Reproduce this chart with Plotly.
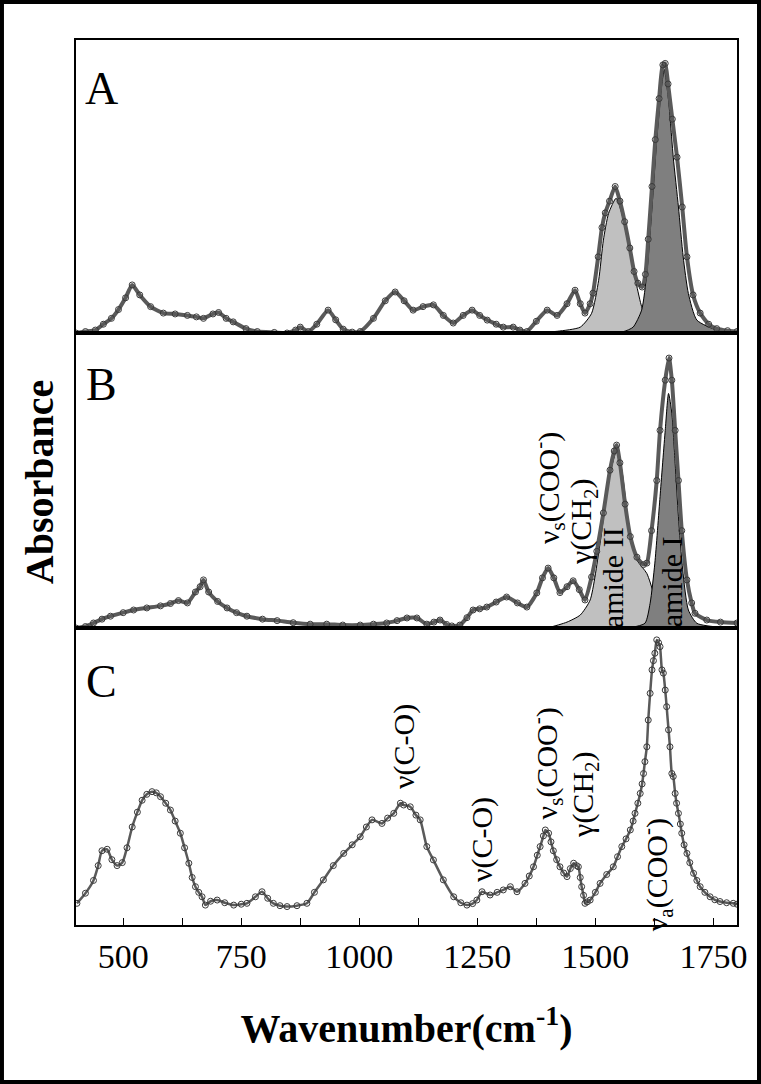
import plotly.graph_objects as go
from plotly.subplots import make_subplots

# ---- Panel A: measured spectrum (wavenumber, relative absorbance) ----
a_wn = [400, 420, 441, 458, 475, 490, 505, 519, 535, 558, 585, 610, 636, 655, 670, 690, 702, 718,
        733, 760, 784, 820, 847, 865, 875, 892, 910, 934, 950, 966, 985, 1002, 1030, 1055, 1076,
        1095, 1114, 1135, 1157, 1178, 1199, 1220, 1239, 1255, 1271, 1290, 1305, 1326, 1340, 1355,
        1375, 1398, 1419, 1440, 1457, 1468, 1478, 1489, 1495, 1506, 1514, 1521, 1530, 1542, 1552,
        1562, 1573, 1582, 1590, 1599, 1606, 1612, 1620, 1627, 1635, 1643, 1648, 1654, 1663, 1673,
        1684, 1694, 1707, 1722, 1740, 1757, 1780, 1800]
a_abs = [0.0, 0.005, 0.01, 0.03, 0.05, 0.08, 0.12, 0.164, 0.13, 0.09, 0.068, 0.065, 0.06, 0.055,
         0.05, 0.065, 0.07, 0.05, 0.038, 0.015, 0.005, 0.002, 0.0, 0.01, 0.02, 0.005, 0.03, 0.078,
         0.045, 0.013, 0.003, 0.005, 0.05, 0.11, 0.14, 0.11, 0.078, 0.09, 0.096, 0.06, 0.034, 0.06,
         0.078, 0.06, 0.044, 0.03, 0.02, 0.02, 0.01, 0.005, 0.04, 0.078, 0.06, 0.1, 0.146, 0.1,
         0.068, 0.1, 0.136, 0.26, 0.36, 0.41, 0.45, 0.50, 0.45, 0.38, 0.29, 0.21, 0.17, 0.157, 0.2,
         0.32, 0.5, 0.66, 0.8, 0.915, 0.92, 0.85, 0.73, 0.60, 0.43, 0.26, 0.13, 0.068, 0.03, 0.015,
         0.008, 0.005]

# fitted bands, panel A
a_am2_wn = [1368, 1420, 1468, 1492, 1507, 1517, 1528, 1544, 1556, 1574, 1588, 1598, 1612, 1637, 1680]
a_am2 = [0.0, 0.006, 0.02, 0.067, 0.18, 0.317, 0.408, 0.46, 0.408, 0.27, 0.158, 0.09, 0.033, 0.005, 0.0]
a_am1_wn = [1520, 1560, 1580, 1598, 1609, 1620, 1630, 1641, 1646, 1655, 1665, 1676, 1686, 1697,
            1715, 1757, 1800]
a_am1 = [0.0, 0.005, 0.02, 0.078, 0.204, 0.43, 0.66, 0.852, 0.9, 0.795, 0.6, 0.43, 0.26, 0.135,
         0.044, 0.01, 0.003]

# ---- Panel B ----
b_wn = [400, 420, 437, 455, 473, 500, 522, 550, 579, 600, 617, 636, 653, 663, 670, 681, 700, 720,
        740, 762, 795, 826, 860, 896, 931, 965, 1002, 1030, 1058, 1080, 1101, 1122, 1143, 1158,
        1171, 1185, 1196, 1213, 1228, 1241, 1255, 1270, 1290, 1312, 1335, 1355, 1376, 1388, 1400,
        1412, 1425, 1440, 1453, 1466, 1478, 1492, 1503, 1517, 1531, 1540, 1545, 1552, 1563, 1574,
        1588, 1602, 1609, 1619, 1630, 1637, 1648, 1656, 1662, 1669, 1676, 1683, 1694, 1704, 1711,
        1736, 1765, 1800]
b_abs = [0.0, 0.005, 0.017, 0.03, 0.04, 0.052, 0.061, 0.068, 0.075, 0.083, 0.093, 0.085, 0.122,
         0.14, 0.163, 0.122, 0.09, 0.068, 0.052, 0.04, 0.03, 0.025, 0.018, 0.013, 0.013, 0.01, 0.01,
         0.013, 0.017, 0.025, 0.034, 0.034, 0.013, 0.02, 0.027, 0.012, 0.007, 0.01, 0.035, 0.061,
         0.065, 0.071, 0.088, 0.105, 0.085, 0.071, 0.119, 0.17, 0.203, 0.17, 0.12, 0.14, 0.16, 0.13,
         0.095, 0.173, 0.26, 0.39, 0.535, 0.6, 0.62, 0.56, 0.42, 0.31, 0.24, 0.215, 0.22, 0.33, 0.5,
         0.67, 0.84, 0.915, 0.84, 0.67, 0.5, 0.33, 0.163, 0.085, 0.05, 0.027, 0.02, 0.017]

b_am2_wn = [1380, 1404, 1440, 1468, 1489, 1510, 1528, 1545, 1556, 1574, 1588, 1609, 1623, 1634, 1645]
b_am2 = [0.0, 0.003, 0.02, 0.044, 0.095, 0.287, 0.5, 0.6, 0.536, 0.31, 0.23, 0.185, 0.118, 0.038, 0.0]
b_am1_wn = [1570, 1605, 1616, 1626, 1637, 1648, 1655, 1662, 1669, 1676, 1685, 1697, 1715, 1760, 1800]
b_am1 = [0.0, 0.016, 0.084, 0.22, 0.445, 0.67, 0.795, 0.728, 0.558, 0.377, 0.197, 0.061, 0.016,
         0.003, 0.0]

# ---- Panel C ----
c_wn = [402, 420, 437, 447, 455, 466, 476, 487, 498, 508, 519, 530, 540, 550, 561, 570, 579, 590,
        600, 610, 621, 630, 639, 646, 653, 660, 667, 674, 685, 699, 715, 734, 750, 762, 780, 794,
        806, 818, 832, 847, 868, 889, 905, 924, 945, 967, 985, 1002, 1015, 1027, 1048, 1060, 1073,
        1087, 1094, 1108, 1120, 1129, 1143, 1157, 1178, 1200, 1215, 1228, 1240, 1249, 1260, 1277,
        1292, 1305, 1320, 1334, 1351, 1360, 1369, 1377, 1383, 1390, 1394, 1401, 1406, 1411, 1418,
        1425, 1433, 1440, 1447, 1454, 1460, 1464, 1468, 1471, 1475, 1478, 1483, 1489, 1500, 1510,
        1524, 1538, 1547, 1556, 1565, 1574, 1580, 1584, 1590, 1595, 1599, 1602, 1605, 1609, 1612,
        1616, 1620, 1623, 1626, 1630, 1634, 1637, 1641, 1644, 1648, 1651, 1655, 1658, 1662, 1665,
        1669, 1672, 1676, 1680, 1683, 1688, 1694, 1700, 1708, 1715, 1722, 1732, 1743, 1753, 1764,
        1778, 1792, 1800]
c_abs = [0.073, 0.107, 0.15, 0.2, 0.25, 0.255, 0.22, 0.2, 0.21, 0.26, 0.33, 0.38, 0.42, 0.44,
         0.449, 0.445, 0.432, 0.41, 0.387, 0.35, 0.309, 0.26, 0.208, 0.16, 0.129, 0.11, 0.095,
         0.067, 0.08, 0.084, 0.075, 0.067, 0.07, 0.073, 0.095, 0.112, 0.09, 0.073, 0.065, 0.062,
         0.065, 0.073, 0.11, 0.152, 0.2, 0.241, 0.27, 0.297, 0.33, 0.354, 0.342, 0.36, 0.376, 0.41,
         0.404, 0.398, 0.37, 0.354, 0.264, 0.219, 0.152, 0.095, 0.075, 0.067, 0.072, 0.084, 0.112,
         0.101, 0.11, 0.118, 0.129, 0.112, 0.14, 0.165, 0.196, 0.235, 0.264, 0.3, 0.32, 0.309, 0.28,
         0.25, 0.22, 0.196, 0.175, 0.163, 0.19, 0.208, 0.2, 0.196, 0.16, 0.129, 0.1, 0.073, 0.078,
         0.084, 0.11, 0.14, 0.17, 0.196, 0.23, 0.264, 0.29, 0.32, 0.35, 0.376, 0.41, 0.443, 0.475,
         0.51, 0.55, 0.6, 0.69, 0.78, 0.859, 0.89, 0.915, 0.96, 0.95, 0.937, 0.859, 0.848, 0.791,
         0.735, 0.657, 0.6, 0.51, 0.5, 0.443, 0.41, 0.376, 0.34, 0.309, 0.27, 0.241, 0.21, 0.174,
         0.15, 0.129, 0.11, 0.095, 0.085, 0.079, 0.075, 0.073, 0.07]

tick_vals = [500, 750, 1000, 1250, 1500, 1750]
minor_vals = [625, 875, 1125, 1375, 1625]

serif = "Liberation Serif"
light_gray = "#c0c0c0"
dark_gray = "#7f7f7f"

fig = make_subplots(rows=3, cols=1, shared_xaxes=True, vertical_spacing=0,
                    row_heights=[293, 295, 297])


def add_band(wn, vals, color, row):
    fig.add_trace(go.Scatter(x=wn, y=vals, mode="lines", fill="tozeroy", fillcolor=color,
                             line=dict(color="black", width=1, shape="spline", smoothing=0.6),
                             hoverinfo="skip"), row=row, col=1)


def add_spectrum(wn, vals, row, rope=4):
    # grey "rope" + open circles, like the densely overlapping data points of the original
    fig.add_trace(go.Scatter(x=wn, y=vals, mode="lines",
                             line=dict(color="#5a5a5a", width=rope, shape="spline", smoothing=0.6)),
                  row=row, col=1)
    fig.add_trace(go.Scatter(x=wn, y=vals, mode="markers",
                             marker=dict(symbol="circle-open", size=6, color="#3a3a3a",
                                         line=dict(width=1))),
                  row=row, col=1)


add_band(a_am2_wn, a_am2, light_gray, 1)
add_band(a_am1_wn, a_am1, dark_gray, 1)
add_spectrum(a_wn, a_abs, 1)

add_band(b_am2_wn, b_am2, light_gray, 2)
add_band(b_am1_wn, b_am1, dark_gray, 2)
add_spectrum(b_wn, b_abs, 2)

add_spectrum(c_wn, c_abs, 3, rope=2.5)

# axes: boxed panels, ticks only on the bottom one
for r in (1, 2, 3):
    fig.update_yaxes(range=[0, 1], showticklabels=False, ticks="", showgrid=False, zeroline=False,
                     showline=True, mirror=True, linecolor="black", linewidth=1.5, row=r, col=1)
    fig.update_xaxes(range=[400, 1800], showgrid=False, zeroline=False, showline=True, mirror=True,
                     linecolor="black", linewidth=1.5, ticks="", showticklabels=False, row=r, col=1)

fig.update_xaxes(showticklabels=True, ticks="inside", ticklen=7, tickwidth=1.2, tickcolor="black",
                 tickvals=tick_vals, tickfont=dict(family=serif, size=34, color="black"),
                 minor=dict(ticks="inside", tickvals=minor_vals, ticklen=7, tickwidth=1.2,
                            tickcolor="black"),
                 title=dict(text="<b>Wavenumber(cm<sup>-1</sup>)</b>", standoff=40,
                            font=dict(family=serif, size=40, color="black")),
                 row=3, col=1)

# panel letters
for ref, letter, v in (("", "A", 0.833), ("2", "B", 0.827), ("3", "C", 0.82)):
    fig.add_annotation(x=455, y=v, xref="x" + ref, yref="y" + ref, text=letter, showarrow=False,
                       font=dict(family=serif, size=46, color="black"))

# band assignments (rotated)
labels = [
    ("2", 1402, 0.475, "ν<sub>s</sub>(COO<sup>-</sup>)"),
    ("2", 1474, 0.36, "γ(CH<sub>2</sub>)"),
    ("2", 1538, 0.17, "amide II"),
    ("2", 1663, 0.156, "amide I"),
    ("3", 1095, 0.6, "ν(C-O)"),
    ("3", 1260, 0.286, "ν(C-O)"),
    ("3", 1396, 0.545, "ν<sub>s</sub>(COO<sup>-</sup>)"),
    ("3", 1478, 0.438, "γ(CH<sub>2</sub>)"),
    ("3", 1630, 0.17, "ν<sub>a</sub>(COO<sup>-</sup>)"),
]
for ref, wn, v, txt in labels:
    fig.add_annotation(x=wn, y=v, xref="x" + ref, yref="y" + ref, text=txt, textangle=-90,
                       showarrow=False, font=dict(family=serif, size=30, color="black"))

# y title spanning all panels
fig.add_annotation(x=-0.055, y=0.5, xref="paper", yref="paper", xanchor="center",
                   yanchor="middle", text="<b>Absorbance</b>", textangle=-90, showarrow=False,
                   font=dict(family=serif, size=40, color="black"))

# outer black frame of the figure
fig.add_shape(type="rect", xref="paper", yref="paper", x0=-0.112, x1=1.0333, y0=-0.1774, y1=1.0429,
              line=dict(color="black", width=4))

fig.update_layout(width=761, height=1084, showlegend=False, plot_bgcolor="white",
                  paper_bgcolor="white", margin=dict(l=76, r=24, t=40, b=159))

fig.write_html("out.html", config={"displayModeBar": False},
               post_script="document.body.style.margin='0px';")
